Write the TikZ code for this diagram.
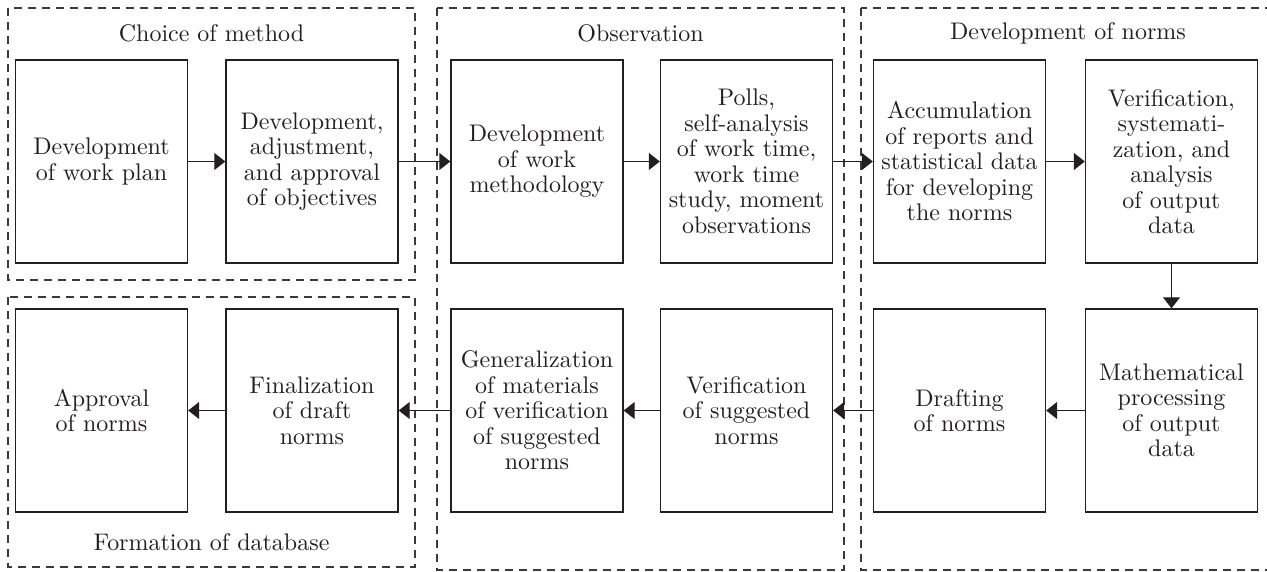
\documentclass[tikz,border=0pt]{standalone}
\usepackage{fontspec}
\setmainfont{lmroman10-regular.otf}
\usetikzlibrary{arrows.meta}
\definecolor{ink}{HTML}{231F20}
\definecolor{dash}{HTML}{3A3A3A}
\begin{document}
\begin{tikzpicture}[x=1pt,y=-1pt,
  box/.style={draw=ink,line width=1.4pt,minimum width=172pt,minimum height=203pt,inner sep=0pt,align=center,text=ink,font=\fontsize{24}{25.5}\selectfont},
  group/.style={draw=dash,line width=1.3pt,dash pattern=on 8pt off 6pt},
  glabel/.style={text=ink,font=\fontsize{24}{25.5}\selectfont,inner sep=0pt},
  conn/.style={draw=ink,line width=1.3pt,-{Triangle[length=11pt,width=17pt]}}]
\useasboundingbox (0,0) rectangle (1267,571);
% groups
\draw[group] (8,8) rectangle (415,280);
\draw[group] (8,297) rectangle (415,567);
\draw[group] (437,8) rectangle (844,570);
\draw[group] (861,8) rectangle (1275,570);
\node[glabel] (g1) at (211.5,33) {Choice of method};
\node[glabel] (g2) at (640.5,33) {Observation};
\node[glabel] (g3) at (1068,33) {Development of norms};
\node[glabel] (g4) at (211.5,542) {Formation of database};
% boxes top row
\node[box] (b1) at (101.5,161.5) {Development\\of work plan};
\node[box] (b2) at (312,161.5) {Development,\\adjustment,\\and approval\\of objectives};
\node[box] (b3) at (537,161.5) {Development\\of work\\methodology};
\node[box] (b4) at (746.5,161.5) {Polls,\\self-analysis\\of work time,\\work time\\study, moment\\observations};
\node[box] (b5) at (959.5,161.5) {Accumulation\\of reports and\\statistical data\\for developing\\the norms};
\node[box] (b6) at (1171.5,161.5) {Verification,\\systemati-\\zation, and\\analysis\\of output\\data};
% bottom row
\node[box] (b7) at (1171.5,410.5) {Mathematical\\processing\\of output\\data};
\node[box] (b8) at (959.5,410.5) {Drafting\\of norms};
\node[box] (b9) at (746.5,410.5) {Verification\\of suggested\\norms};
\node[box] (b10) at (537,410.5) {Generalization\\of materials\\of verification\\of suggested\\norms};
\node[box] (b11) at (312,410.5) {Finalization\\of draft\\norms};
\node[box] (b12) at (101.5,410.5) {Approval\\of norms};
% connectors
\draw[conn] (b1.east) -- (b2.west);
\draw[conn] (b2.east) -- (b3.west);
\draw[conn] (b3.east) -- (b4.west);
\draw[conn] (b4.east) -- (b5.west);
\draw[conn] (b5.east) -- (b6.west);
\draw[conn] (b6.south) -- (b7.north);
\draw[conn] (b7.west) -- (b8.east);
\draw[conn] (b8.west) -- (b9.east);
\draw[conn] (b9.west) -- (b10.east);
\draw[conn] (b10.west) -- (b11.east);
\draw[conn] (b11.west) -- (b12.east);
\end{tikzpicture}
\end{document}
